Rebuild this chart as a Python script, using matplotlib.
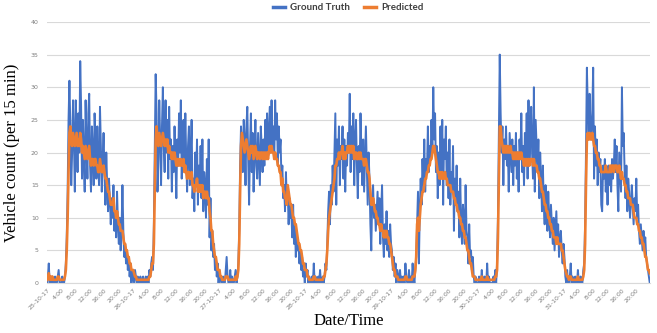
import numpy as np
import matplotlib
matplotlib.use("Agg")
import matplotlib.pyplot as plt

# traffic counts, 15 min steps, one list per day (96 values)
days = ["25-10-17", "26-10-17", "27-10-17", "28-10-17", "29-10-17", "30-10-17", "31-10-17"]
hour_labels = ["4:00", "8:00", "12:00", "16:00", "20:00"]

gt_25 = [0,1,3,0, 1,0,1,0, 0,1,0,0, 1,2,0,0,
         0,1,0,0, 1,3,7,14, 25,31,24,15, 20,28,22,14,
         28,24,17,26, 20,34,27,16, 25,19,14,28, 21,16,26,29,
         18,14,24,20, 15,26,22,16, 24,18,15,27, 21,14,19,23,
         17,12,20,15, 11,16,13,9, 13,10,15,8, 11,7,14,9,
         6,10,5,8, 15,8,4,6, 3,5,2,4, 1,3,0,2]
gt_26 = [1,0,2,1, 0,1,0,0, 1,0,0,1, 0,0,1,0,
         1,0,2,1, 3,4,2,9, 20,32,26,14, 19,28,22,15,
         24,30,21,17, 28,20,25,16, 27,19,22,14, 21,17,24,19,
         13,22,18,26, 20,28,16,22, 25,17,26,19, 14,21,24,15,
         19,25,13,16, 11,20,15,22, 12,18,14,21, 13,22,11,17,
         15,10,19,12, 22,7,13,5, 8,4,6,2, 4,1,3,0]
gt_27 = [2,1,0,0, 1,0,0,2, 4,1,0,0, 2,0,1,0,
         0,1,2,0, 1,3,8,18, 24,20,17,25, 22,15,24,27,
         19,12,21,26, 17,23,14,20, 25,18,16,23, 19,15,24,21,
         17,22,18,25, 20,26,19,23, 27,20,28,21, 24,19,28,22,
         26,18,24,20, 22,16,18,13, 15,11,17,12, 14,9,13,10,
         11,7,12,6, 9,4,8,5, 6,3,5,2, 4,1,2,0]
gt_28 = [3,1,2,0, 1,0,0,1, 0,3,0,1, 0,0,1,0,
         2,0,0,1, 0,1,3,2, 6,11,14,9, 15,12,18,14,
         20,26,12,22, 18,24,15,21, 19,24,16,22, 14,21,18,23,
         20,29,17,24, 19,26,15,22, 25,18,13,21, 17,26,20,15,
         22,14,19,24, 18,12,20,16, 9,5,13,15, 10,12,8,11,
         14,9,13,6, 11,15,7,4, 9,6,11,5, 8,4,9,6]
gt_29 = [5,2,4,1, 3,0,2,1, 0,2,0,1, 0,1,0,3,
         1,0,0,2, 0,1,0,3, 1,0,2,4, 9,14,3,11,
         16,12,19,15, 22,14,19,17, 24,17,21,19, 25,20,30,22,
         26,17,21,13, 20,15,24,17, 25,12,22,19, 24,15,20,13,
         22,12,17,14, 21,8,16,12, 18,11,14,7, 16,9,6,12,
         10,6,15,8, 7,3,9,4, 5,2,4,1, 0,1,0,0]
gt_30 = [0,1,0,0, 2,0,0,1, 0,0,3,0, 1,0,0,0,
         0,1,0,2, 0,3,10,22, 35,26,20,24, 15,22,19,24,
         18,21,14,23, 20,17,22,15, 21,18,23,16, 20,14,22,19,
         26,17,21,15, 23,19,26,16, 28,18,22,27, 20,16,30,14,
         25,21,17,22, 13,20,16,11, 18,12,9,15, 11,8,14,10,
         7,12,9,6, 10,5,8,11, 6,9,4,7, 8,5,3,6]
gt_31 = [4,1,0,2, 0,0,1,3, 0,1,0,0, 1,0,0,2,
         0,0,1,0, 0,2,3,9, 20,33,27,22, 29,24,22,26,
         33,16,24,18, 22,15,20,17, 19,12,11,18, 16,19,14,17,
         12,18,15,17, 14,19,16,18, 22,17,21,15, 11,20,17,14,
         30,21,23,17, 13,18,11,16, 14,10,12,15, 12,9,13,11,
         16,10,12,8, 6,9,7,5, 8,6,7,4, 3,2,1,0]

pred_25 = [0.5,1,1.5,0.5, 1,0.5,1,0.5, 0.5,0.5,0.5,0.5, 1,1,0.5,0.5,
           0.5,0.5,0.5,0.5, 1,2,5,10, 17,23,24,22, 21,23,22,21,
           22,23,21,22, 21,23,22,20, 21,20,19,21, 20,19,20,21,
           19,18,19,19, 18,19,19,18, 18,17,17,19, 18,17,17,18,
           17,16,16,15, 14,14,13,12, 12,12,13,11, 11,10,11,10,
           9,9,8,8, 8,7,6,6, 5,5,4,4, 3,3,2,2]
pred_26 = [2,1.5,1,1, 0.5,0.5,0.5,0.5, 0.5,0.5,0.5,0.5, 0.5,0.5,0.5,0.5,
           0.5,0.5,1,1, 2,3,3,6, 14,22,24,22, 21,23,22,21,
           22,23,22,21, 22,21,22,20, 21,20,20,19, 20,19,20,19,
           18,19,18,19, 18,19,18,18, 19,17,18,17, 16,17,17,16,
           16,17,15,15, 14,15,15,16, 14,15,14,15, 14,15,13,14,
           14,13,14,13, 13,11,10,8, 8,6,5,4, 4,3,2,2]
pred_27 = [2,1,1,0.5, 0.5,0.5,0.5,1, 1,1,0.5,0.5, 0.5,0.5,0.5,0.5,
           0.5,0.5,1,0.5, 1,2,6,14, 21,23,22,21, 20,21,22,21,
           20,19,20,21, 20,21,19,20, 21,20,19,20, 20,19,20,20,
           19,20,19,20, 19,20,19,20, 21,20,21,20, 20,19,20,19,
           19,18,18,17, 17,15,16,14, 14,13,13,12, 15,14,13,12,
           12,11,10,10, 9,9,8,7, 6,6,5,5, 4,3,3,2]
pred_28 = [2,2,1,1, 0.5,0.5,0.5,0.5, 0.5,1,1,0.5, 0.5,0.5,0.5,0.5,
           0.5,0.5,0.5,0.5, 1,1,2,3, 5,8,10,11, 12,13,14,15,
           16,18,18,19, 19,20,19,20, 20,21,19,20, 19,20,20,21,
           20,21,20,21, 20,21,19,20, 20,19,19,20, 19,20,19,19,
           19,18,19,19, 18,17,17,16, 14,12,12,13, 12,11,11,10,
           10,9,9,8, 9,8,8,7, 8,7,8,7, 7,6,6,5]
pred_29 = [4,3,2,2, 1,1,1,0.5, 0.5,0.5,0.5,0.5, 0.5,0.5,0.5,1,
           1,0.5,0.5,0.5, 0.5,0.5,0.5,1, 1,1,2,4, 9,10,8,10,
           12,13,14,14, 15,16,16,17, 17,18,18,19, 19,20,21,21,
           20,19,18,17, 17,16,17,16, 17,16,16,17, 16,16,15,15,
           15,15,14,14, 14,13,13,12, 12,11,11,10, 10,9,9,8,
           8,7,7,6, 5,5,4,3, 3,2,1,1, 1,0.5,0.5,0.5]
pred_30 = [0.5,0.5,0.5,0.5, 1,0.5,0.5,0.5, 0.5,0.5,1,0.5, 0.5,0.5,0.5,0.5,
           0.5,0.5,0.5,1, 1,2,7,16, 24,24,22,21, 20,21,20,21,
           20,21,20,20, 21,20,20,19, 20,19,20,19, 20,19,20,19,
           20,19,19,18, 19,18,19,18, 19,18,19,19, 19,18,19,18,
           18,18,17,17, 16,16,15,14, 14,13,12,12, 11,11,10,10,
           9,9,8,8, 7,7,7,6, 7,6,6,6, 6,5,5,4]
pred_31 = [3,2,1.5,1, 1,0.5,1,1, 0.5,0.5,0.5,0.5, 0.5,0.5,0.5,1,
           0.5,0.5,0.5,0.5, 0.5,1,2,6, 15,22,23,22, 23,22,22,23,
           22,21,21,20, 20,19,19,18, 18,17,17,17, 17,17,18,17,
           17,17,17,18, 17,18,18,17, 18,18,18,17, 17,18,17,16,
           17,16,16,15, 15,14,14,13, 13,13,12,12, 12,11,10,10,
           10,9,9,8, 8,7,7,6, 6,5,4,4, 3,2,2,1.5]

ground_truth = gt_25 + gt_26 + gt_27 + gt_28 + gt_29 + gt_30 + gt_31
predicted = pred_25 + pred_26 + pred_27 + pred_28 + pred_29 + pred_30 + pred_31
assert len(ground_truth) == 672 and len(predicted) == 672

x = np.arange(len(ground_truth))
tick_pos = np.arange(0, len(ground_truth), 16)
tick_lab = []
for d in days:
    tick_lab += [d] + hour_labels

fig = plt.figure(figsize=(6.57, 3.33), dpi=100)
ax = fig.add_axes([0.0715, 0.150, 0.9175, 0.784])
ax.plot(x, ground_truth, color="#4472C4", lw=1.4, label="Ground Truth")
ax.plot(x, predicted, color="#ED7D31", lw=1.9, label="Predicted")

ax.set_xlim(0, len(ground_truth) - 1)
ax.set_ylim(0, 40)
ax.set_yticks(range(0, 41, 5))
ax.set_xticks(tick_pos)
ax.set_xticklabels(tick_lab, rotation=45, ha="right", rotation_mode="anchor")
ax.tick_params(axis="both", length=0, labelsize=4.5, labelcolor="#7f7f7f")
ax.tick_params(axis="y", pad=6)
ax.tick_params(axis="x", pad=3)
ax.grid(axis="y", color="#d9d9d9", lw=0.8)
ax.set_axisbelow(True)
for s in ["top", "right", "left"]:
    ax.spines[s].set_visible(False)
ax.spines["bottom"].set_color("#d9d9d9")

ax.set_ylabel("Vehicle count (per 15 min)", family="Liberation Serif", fontsize=12, labelpad=8)
ax.set_xlabel("Date/Time", family="Liberation Serif", fontsize=12, labelpad=2)

leg = ax.legend(loc="center", bbox_to_anchor=(0.5, 1.055), ncol=2, frameon=False,
                handlelength=1.2, handletextpad=0.5, columnspacing=1.5,
                prop={"family": "Lato", "weight": "bold", "size": 7})
for t in leg.get_texts():
    t.set_color("#404040")
for h in leg.get_lines():
    h.set_linewidth(2.5)

fig.savefig("out.png", dpi=100)
